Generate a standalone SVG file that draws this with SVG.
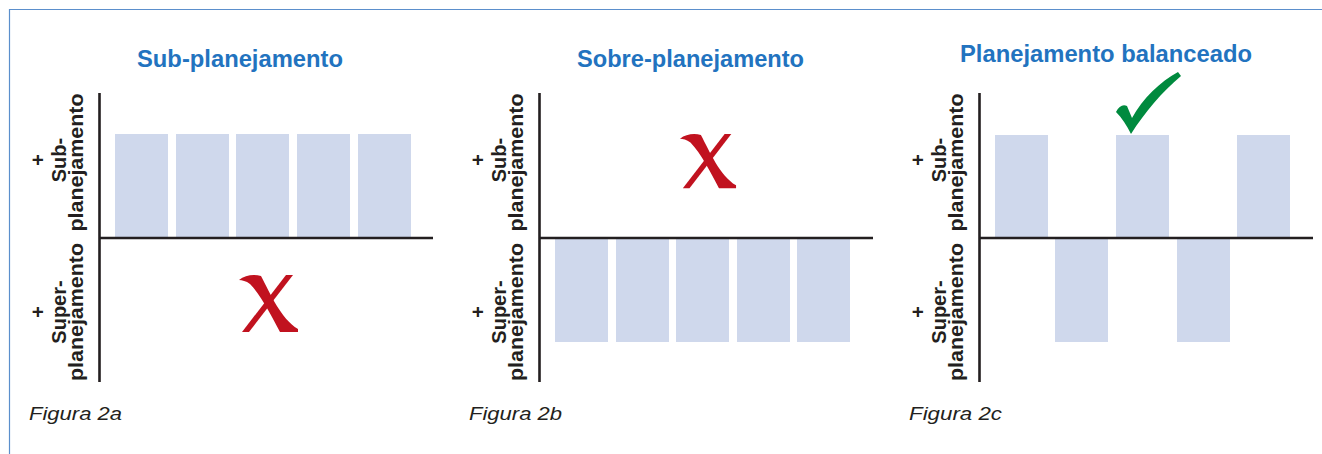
<svg xmlns="http://www.w3.org/2000/svg" xmlns:xlink="http://www.w3.org/1999/xlink" width="1322" height="454" viewBox="0 0 1322 454">
<style>
.frame{fill:none;stroke:#5b8fcc;stroke-width:1.2}
.axis{stroke:#231f20;stroke-width:2.6;fill:none}
.bar{fill:#cfd8ec}
.title{font-family:"Liberation Sans",Arial,sans-serif;font-weight:bold;font-size:23px;fill:#2273bf;text-anchor:middle}
.lbl{font-family:"Liberation Sans",Arial,sans-serif;font-weight:bold;font-size:20px;fill:#231f20;text-anchor:middle}
.cap{font-family:"Liberation Sans",Arial,sans-serif;font-style:italic;font-size:19px;fill:#231f20}
.xmark{fill:#c1121f}
.check{fill:#008a3e}
</style>
<defs>
<g id="xm">
<path d="M0,5 C6,0 15,-1 22,1 C31,18 42,44 59,54 L59,57 L41,57 C33,42 22,20 11,9 C7,6 3,5 0,5 Z"/>
<path d="M47,0 L54,0 L10,57 L3,57 Z"/>
</g>
<g id="labels">
<g transform="translate(45,160) rotate(-90)"><text class="lbl" x="0" y="0">+</text></g>
<g transform="translate(65.5,160) rotate(-90)"><text class="lbl" x="0" y="0">Sub-</text></g>
<g transform="translate(83,162.5) rotate(-90)"><text class="lbl" x="0" y="0" textLength="138" lengthAdjust="spacingAndGlyphs">planejamento</text></g>
<g transform="translate(45,312) rotate(-90)"><text class="lbl" x="0" y="0">+</text></g>
<g transform="translate(65.5,312) rotate(-90)"><text class="lbl" x="0" y="0">Super-</text></g>
<g transform="translate(83,312) rotate(-90)"><text class="lbl" x="0" y="0" textLength="138" lengthAdjust="spacingAndGlyphs">planejamento</text></g>
</g>
</defs>
<rect width="1322" height="454" fill="#ffffff"/>
<path class="frame" d="M9.5,454 L9.5,9.5 L1322,9.5"/>

<g id="panel-a">
<text class="title" x="240" y="67" textLength="206" lengthAdjust="spacingAndGlyphs">Sub-planejamento</text>
<use xlink:href="#labels"/>
<rect class="bar" x="115" y="134" width="53" height="103"/>
<rect class="bar" x="176" y="134" width="53" height="103"/>
<rect class="bar" x="236" y="134" width="53" height="103"/>
<rect class="bar" x="297" y="134" width="53" height="103"/>
<rect class="bar" x="358" y="134" width="53" height="103"/>
<path class="axis" d="M99.5,93 L99.5,382 M99.5,238 L433,238"/>
<use xlink:href="#xm" class="xmark" transform="translate(239,275)"/>
<text class="cap" x="29" y="420" textLength="93" lengthAdjust="spacingAndGlyphs">Figura 2a</text>
</g>

<g id="panel-b">
<text class="title" x="690.5" y="67" textLength="227" lengthAdjust="spacingAndGlyphs">Sobre-planejamento</text>
<use xlink:href="#labels" transform="translate(440,0)"/>
<rect class="bar" x="555" y="239" width="53" height="103"/>
<rect class="bar" x="616" y="239" width="53" height="103"/>
<rect class="bar" x="676" y="239" width="53" height="103"/>
<rect class="bar" x="737" y="239" width="53" height="103"/>
<rect class="bar" x="797" y="239" width="53" height="103"/>
<path class="axis" d="M539.5,93 L539.5,382 M539.5,238 L873,238"/>
<use xlink:href="#xm" class="xmark" transform="translate(680,134) scale(0.95)"/>
<text class="cap" x="469" y="420" textLength="93" lengthAdjust="spacingAndGlyphs">Figura 2b</text>
</g>

<g id="panel-c">
<text class="title" x="1106" y="62" textLength="292" lengthAdjust="spacingAndGlyphs">Planejamento balanceado</text>
<use xlink:href="#labels" transform="translate(880,0)"/>
<rect class="bar" x="995" y="135" width="53" height="102"/>
<rect class="bar" x="1116" y="135" width="53" height="102"/>
<rect class="bar" x="1237" y="135" width="53" height="102"/>
<rect class="bar" x="1055" y="239" width="53" height="103"/>
<rect class="bar" x="1177" y="239" width="53" height="103"/>
<path class="axis" d="M979.5,93 L979.5,382 M979.5,238 L1313,238"/>
<path class="check" d="M1116,112 C1119,106 1123,104 1127,106 L1132,118 C1143,98 1160,82 1178,72 L1181,76 C1162,92 1145,112 1131,134 C1127,126 1122,118 1116,112 Z"/>
<text class="cap" x="909" y="420" textLength="93" lengthAdjust="spacingAndGlyphs">Figura 2c</text>
</g>
</svg>
